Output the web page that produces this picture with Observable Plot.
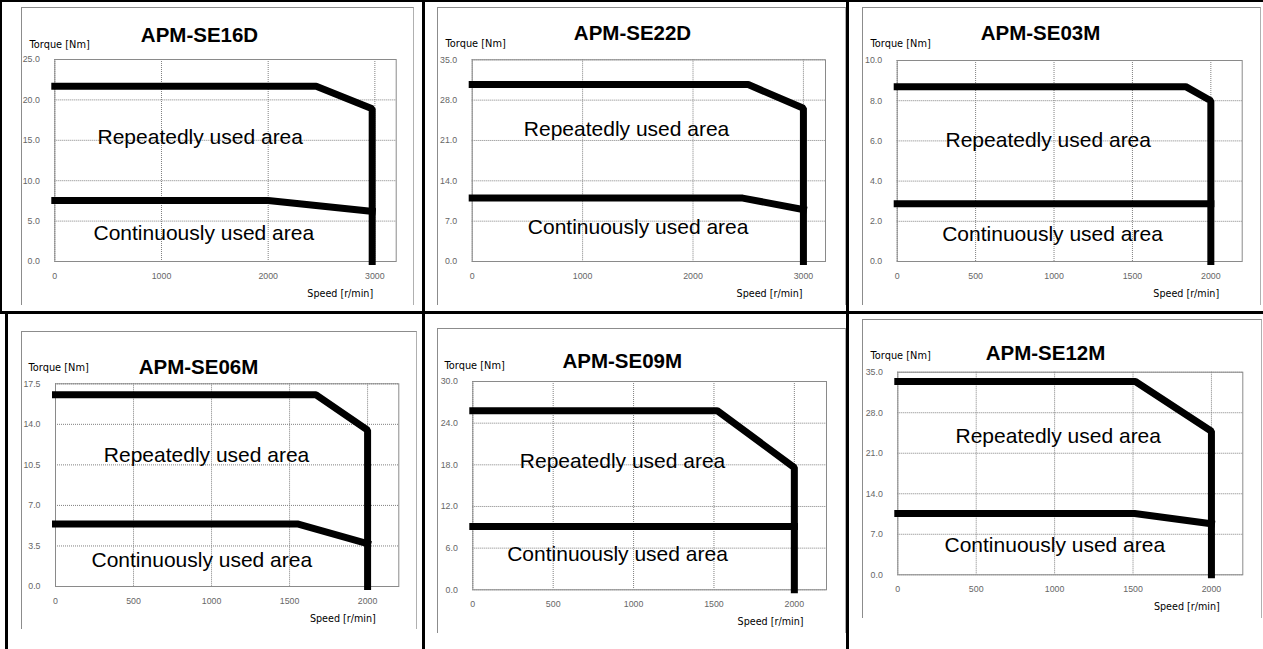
<!DOCTYPE html>
<html><head><meta charset="utf-8">
<script src="https://cdn.jsdelivr.net/npm/d3@7"></script>
<script src="https://cdn.jsdelivr.net/npm/@observablehq/plot@0.6"></script>
<style>
body{margin:0;background:#fff;}
#page{position:relative;width:1263px;height:649px;overflow:hidden;background:#fff;}
.rule{position:absolute;background:#000;}
.frame{position:absolute;border-left:1px solid #8c8c8c;border-top:1px solid #8c8c8c;border-right:1px solid #b0b0b0;box-sizing:border-box;}
.panel{position:absolute;}
.panel svg{overflow:visible;display:block;}
</style></head><body><div id="page"></div>
<script>
// ---- data ----
const models = ["APM-SE16D", "APM-SE22D", "APM-SE03M", "APM-SE06M", "APM-SE09M", "APM-SE12M"];
const xMax = [3200, 3200, 2200, 2200, 2200, 2200];
const xTicks = [
  [0, 1000, 2000, 3000],
  [0, 1000, 2000, 3000],
  [0, 500, 1000, 1500, 2000],
  [0, 500, 1000, 1500, 2000],
  [0, 500, 1000, 1500, 2000],
  [0, 500, 1000, 1500, 2000]
];
const yTicks = [
  [0, 5, 10, 15, 20, 25],
  [0, 7, 14, 21, 28, 35],
  [0, 2, 4, 6, 8, 10],
  [0, 3.5, 7, 10.5, 14, 17.5],
  [0, 6, 12, 18, 24, 30],
  [0, 7, 14, 21, 28, 35]
];
const repeatedSpeed = [
  [0, 2450, 2975, 2975],
  [0, 2500, 3000, 3000],
  [0, 1840, 2000, 2000],
  [0, 1670, 2000, 2000],
  [0, 1520, 2000, 2000],
  [0, 1515, 2000, 2000]
];
const repeatedTorque = [
  [21.7, 21.7, 18.9, 0],
  [30.7, 30.7, 26.6, 0],
  [8.7, 8.7, 8.0, 0],
  [16.55, 16.55, 13.5, 0],
  [25.8, 25.8, 17.6, 0],
  [33.4, 33.4, 24.8, 0]
];
const continuousSpeed = [
  [0, 2000, 2975],
  [0, 2450, 3000],
  [0, 2000],
  [0, 1550, 2000],
  [0, 2000],
  [0, 1510, 2000]
];
const continuousTorque = [
  [7.55, 7.55, 6.2],
  [11.0, 11.0, 9.0],
  [2.87, 2.87],
  [5.4, 5.4, 3.7],
  [9.1, 9.1],
  [10.6, 10.6, 8.8]
];
const areaLabels = ["Repeatedly used area", "Continuously used area"];
const yLabel = "Torque [Nm]";
const xLabel = "Speed [r/min]";

// ---- layout (page pixel coordinates) ----
const layout = [
  {frame:[21,7,414,305],  plot:[54.3,395.7,59,261],    title:[199,35],    torque:[29,44.3],  rep:[97,137],    cont:[93,233]},
  {frame:[437,7,845.5,305], plot:[471.7,825,59.3,261], title:[632,33.3],  torque:[445,43.3], rep:[523.3,128.3], cont:[527.3,226.7]},
  {frame:[862,7,1261,305], plot:[896.7,1241.7,60,261], title:[1040,33.3], torque:[870,43.3], rep:[945,140],    cont:[941.7,233.3]},
  {frame:[21,331,417,629], plot:[55,398.3,383.3,586],  title:[198,366.7], torque:[28,367],   rep:[103.3,454.3], cont:[91,560]},
  {frame:[437,328,846,633], plot:[472.3,826,381,589.3], title:[621.7,361], torque:[444,365], rep:[519.3,461],  cont:[506.7,553.3]},
  {frame:[862,319,1262,618], plot:[897.3,1242.3,371.7,574.3], title:[1045,353.3], torque:[870,355], rep:[955,435.7], cont:[944,545]}
];

const page = document.getElementById("page");
function rule(l, t, w, h) {
  const d = document.createElement("div");
  d.className = "rule";
  Object.assign(d.style, {left: l + "px", top: t + "px", width: w + "px", height: h + "px"});
  page.appendChild(d);
}
// table rules
rule(0, 0, 1263, 2);
rule(0, 0, 2, 313);
rule(5, 311, 2.5, 338);
rule(0, 311, 1263, 3);
rule(422, 0, 2.5, 649);
rule(846, 0, 3, 649);

const sans = "'Liberation Sans', Arial, sans-serif";
const gul = "'DejaVu Sans', sans-serif";

models.forEach((name, i) => {
  const L = layout[i];
  const [fl, ft, fr, fb] = L.frame;
  const [pl, pr, pt, pb] = L.plot;
  const W = fr - fl, H = fb - ft;

  const fr_ = document.createElement("div");
  fr_.className = "frame";
  Object.assign(fr_.style, {left: fl + "px", top: ft + "px", width: W + "px", height: H + "px"});
  page.appendChild(fr_);

  const rel = ([x, y]) => ({dx: x - pl, dy: y - pt});
  const rep = repeatedSpeed[i].map((s, k) => ({speed: s, torque: repeatedTorque[i][k]}));
  const cont = continuousSpeed[i].map((s, k) => ({speed: s, torque: continuousTorque[i][k]}));
  const yMax = yTicks[i][yTicks[i].length - 1];

  const chart = Plot.plot({
    width: W,
    height: H,
    marginLeft: pl - fl,
    marginRight: fr - pr,
    marginTop: pt - ft,
    marginBottom: fb - pb,
    style: {background: "transparent", overflow: "visible"},
    x: {domain: [0, xMax[i]]},
    y: {domain: [0, yMax]},
    marks: [
      Plot.gridX(xTicks[i], {stroke: "#808080", strokeOpacity: 1, strokeDasharray: "1,1"}),
      Plot.gridY(yTicks[i], {stroke: "#808080", strokeOpacity: 1, strokeDasharray: "1,1"}),
      Plot.frame({stroke: "#8a8a8a"}),
      Plot.axisX(xTicks[i], {tickSize: 0, tickPadding: 11, fontSize: 8.8, fontFamily: sans, color: "#666", label: null, tickFormat: d => String(d)}),
      Plot.axisY(yTicks[i], {tickSize: 0, tickPadding: 15, fontSize: 8.8, fontFamily: sans, color: "#666", label: null, tickFormat: d => d.toFixed(1)}),
      Plot.line(cont, {x: "speed", y: "torque", stroke: "#000", strokeWidth: 7, strokeLinecap: "square", strokeLinejoin: "miter"}),
      Plot.line(rep, {x: "speed", y: "torque", stroke: "#000", strokeWidth: 7, strokeLinecap: "square", strokeLinejoin: "miter"}),
      Plot.text([name], {text: d => d, frameAnchor: "top-left", ...rel(L.title), textAnchor: "middle", lineAnchor: "middle", fontSize: 20.5, fontWeight: "bold", fontFamily: sans, fill: "#000"}),
      Plot.text([yLabel], {text: d => d, frameAnchor: "top-left", ...rel(L.torque), textAnchor: "start", lineAnchor: "middle", fontSize: 9.8, fontFamily: gul, fill: "#000"}),
      Plot.text([xLabel], {text: d => d, frameAnchor: "bottom-right", dx: -23, dy: 32, textAnchor: "end", lineAnchor: "middle", fontSize: 9.6, fontFamily: gul, fill: "#000"}),
      Plot.text([areaLabels[0]], {text: d => d, frameAnchor: "top-left", ...rel(L.rep), textAnchor: "start", lineAnchor: "middle", fontSize: 21, fontFamily: sans, fill: "#000"}),
      Plot.text([areaLabels[1]], {text: d => d, frameAnchor: "top-left", ...rel(L.cont), textAnchor: "start", lineAnchor: "middle", fontSize: 21, fontFamily: sans, fill: "#000"})
    ]
  });
  const wrap = document.createElement("div");
  wrap.className = "panel";
  Object.assign(wrap.style, {left: fl + "px", top: ft + "px", width: W + "px", height: H + "px"});
  wrap.appendChild(chart);
  page.appendChild(wrap);
});
</script>
</body></html>
